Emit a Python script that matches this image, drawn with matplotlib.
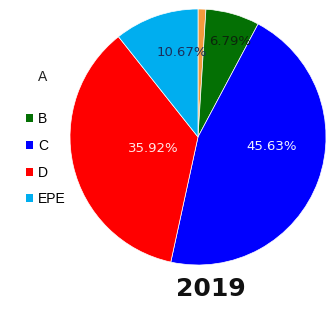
import numpy as np
import matplotlib
matplotlib.use("Agg")
import matplotlib.pyplot as plt
from matplotlib.patches import Patch

# slice data (clockwise from 12 o'clock)
labels = ["A", "B", "C", "D", "EPE"]
shares = [0.99, 6.79, 45.63, 35.92, 10.67]
colors = ["#F39A3C", "#047004", "#0000FF", "#FF0000", "#00AEEF"]
shown = ["", "6.79%", "45.63%", "35.92%", "10.67%"]
text_colors = ["black", "#0B260B", "#F2F2FF", "#FFE6E6", "#1B2F5C"]
# radial position of each percentage label (fraction of radius) and angle nudge (deg)
label_dist = [0.7, 0.79, 0.58, 0.36, 0.67]
label_turn = [0, -3, 13, 2, -8]
year = "2019"

fig = plt.figure(figsize=(3.27, 3.15), dpi=100)
ax = fig.add_axes([70 / 327, 50 / 315, 256 / 327, 256 / 315])

wedges, _ = ax.pie(shares, colors=colors, startangle=90, counterclock=False,
                   wedgeprops=dict(edgecolor="white", linewidth=0.5))

for w, txt, tc, d, t in zip(wedges, shown, text_colors, label_dist, label_turn):
    if not txt:
        continue
    ang = np.deg2rad((w.theta1 + w.theta2) / 2 + t)
    ax.text(d * np.cos(ang), d * np.sin(ang), txt, ha="center", va="center",
            color=tc, fontsize=9.5, family="DejaVu Sans")

ax.set_xlim(-1, 1)
ax.set_ylim(-1, 1)
ax.set_aspect("equal")
ax.axis("off")

# legend: first entry has no visible swatch
fig.text(43 / 327, 1 - 77 / 315, labels[0], ha="center", va="center",
         fontsize=10, family="Liberation Sans", color="#222222")
handles = [Patch(facecolor=c, edgecolor="none") for c in colors[1:]]
fig.legend(handles, labels[1:], loc="upper left", bbox_to_anchor=(0.08, 1 - 112 / 315),
           frameon=False, handlelength=0.5, handleheight=0.5, handletextpad=0.35,
           labelspacing=0.92, borderaxespad=0, borderpad=0,
           prop=dict(family="Liberation Sans", size=10))

fig.text(211 / 327, 1 - 289 / 315, year, ha="center", va="center",
         fontsize=18, fontweight="bold", family="DejaVu Sans", color="#111111")

fig.savefig("out.png", dpi=100)
